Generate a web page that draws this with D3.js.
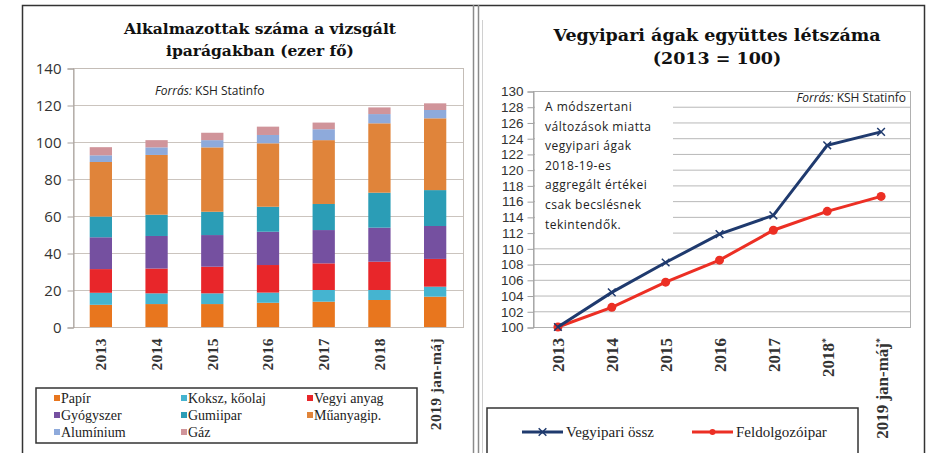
<!DOCTYPE html>
<html>
<head>
<meta charset="utf-8">
<script src="https://cdn.jsdelivr.net/npm/d3@7"></script>
<style>
  body { margin: 0; background: #fff; }
  svg { display: block; }
  .tick text { fill: #333; }
</style>
</head>
<body>
<div id="chart"></div>
<script>
// data for the left (stacked bars) chart, thousand persons
var years = ["2013", "2014", "2015", "2016", "2017", "2018", "2019 jan-máj"];
var seriesNames = ["Papír", "Koksz, kőolaj", "Vegyi anyag", "Gyógyszer", "Gumiipar", "Műanyagip.", "Alumínium", "Gáz"];
var papir     = [12.0, 12.4, 12.4, 13.1, 13.7, 14.6, 16.4];
var koksz     = [6.5, 5.8, 5.8, 5.5, 6.3, 5.4, 5.4];
var vegyi     = [12.8, 13.4, 14.4, 14.9, 14.4, 15.3, 15.0];
var gyogyszer = [17.2, 17.6, 17.1, 18.0, 18.0, 18.4, 17.8];
var gumi      = [11.2, 11.5, 12.6, 13.5, 14.1, 18.9, 19.4];
var muanyag   = [29.5, 32.3, 34.8, 34.3, 34.5, 37.5, 38.8];
var aluminium = [3.6, 4.1, 3.9, 4.5, 5.9, 5.0, 4.5];
var gaz       = [4.4, 3.9, 4.0, 4.5, 3.6, 3.6, 3.6];
var leftTicks = [0, 20, 40, 60, 80, 100, 120, 140];

// data for the right (index) chart
var idxYears = ["2013", "2014", "2015", "2016", "2017", "2018", "2019 jan-máj"];
var idxStar = [false, false, false, false, false, true, true];
var vegyipariOssz = [100, 104.4, 108.2, 111.8, 114.2, 123.1, 124.8];
var feldolgozoipar = [100, 102.5, 105.7, 108.5, 112.3, 114.7, 116.6];
var rightTicks = [100, 102, 104, 106, 108, 110, 112, 114, 116, 118, 120, 122, 124, 126, 128, 130];
var noteLines = ["A módszertani", "változások miatta", "vegyipari ágak", "2018-19-es", "aggregált értékei", "csak becslésnek", "tekintendők."];

var barColors = ["#e8761e", "#45b4d0", "#e8262a", "#7550a0", "#2b9db6", "#e0843a", "#8eaadb", "#d0949a"];

var svgWidth = 931;
var svgHeight = 453;

var svg = d3.select("#chart")
  .append("svg")
  .attr("width", svgWidth)
  .attr("height", svgHeight);

// panel frames
svg.append("rect")
  .attr("x", 22.5).attr("y", 5.5)
  .attr("width", 902).attr("height", 470)
  .attr("fill", "none").attr("stroke", "#333").attr("stroke-width", 1.5);
svg.append("line").attr("x1", 473.5).attr("x2", 473.5).attr("y1", 5).attr("y2", 453)
  .attr("stroke", "#8a8a8a").attr("stroke-width", 1.5);
svg.append("line").attr("x1", 478.5).attr("x2", 478.5).attr("y1", 5).attr("y2", 453)
  .attr("stroke", "#8a8a8a").attr("stroke-width", 1.5);

var titleFont = "'DejaVu Serif', serif";
var serifFont = "'Liberation Serif', 'Times New Roman', serif";
var sansFont = "'Open Sans', 'DejaVu Sans', sans-serif";
var narrowFont = "'Liberation Sans', Arial, sans-serif";

// ---------------- left chart ----------------
var L = { left: 73, right: 463, top: 68, bottom: 327 };

var table = years.map(function(y, i) {
  return {
    year: y,
    "Papír": papir[i], "Koksz, kőolaj": koksz[i], "Vegyi anyag": vegyi[i], "Gyógyszer": gyogyszer[i],
    "Gumiipar": gumi[i], "Műanyagip.": muanyag[i], "Alumínium": aluminium[i], "Gáz": gaz[i]
  };
});

var xBand = d3.scaleBand()
  .domain(years)
  .range([L.left, L.right])
  .paddingInner(0.6)
  .paddingOuter(0.3);

var yLeft = d3.scaleLinear()
  .domain([0, 140])
  .range([L.bottom, L.top]);

var leftTitle = svg.append("text")
  .attr("text-anchor", "middle")
  .attr("font-family", titleFont)
  .attr("font-weight", "bold")
  .attr("font-size", "15.5px")
  .attr("fill", "#111");
leftTitle.append("tspan").attr("x", 260).attr("y", 34).text("Alkalmazottak száma a vizsgált");
leftTitle.append("tspan").attr("x", 260).attr("y", 56).text("iparágakban (ezer fő)");

// gridlines
svg.append("g")
  .selectAll("line")
  .data(leftTicks)
  .enter()
  .append("line")
  .attr("x1", L.left).attr("x2", L.right)
  .attr("y1", function(d) { return yLeft(d) + 0.5; })
  .attr("y2", function(d) { return yLeft(d) + 0.5; })
  .attr("stroke", "#cbc4be");

svg.append("rect")
  .attr("x", L.left + 0.5).attr("y", L.top + 0.5)
  .attr("width", L.right - L.left).attr("height", L.bottom - L.top)
  .attr("fill", "none").attr("stroke", "#c4bdb7");

var leftAxis = d3.axisLeft(yLeft).tickValues(leftTicks).tickSize(6).tickPadding(6);
var gLeft = svg.append("g")
  .attr("transform", "translate(" + (L.left + 0.5) + ",0.5)")
  .call(leftAxis);
gLeft.select(".domain").attr("stroke", "#a8a19c");
gLeft.selectAll(".tick line").attr("stroke", "#a8a19c");
gLeft.selectAll(".tick text").attr("font-family", sansFont).attr("font-size", "15px");

var stacked = d3.stack().keys(seriesNames)(table);

svg.append("g")
  .selectAll("g")
  .data(stacked)
  .enter()
  .append("g")
  .attr("fill", function(d, i) { return barColors[i]; })
  .selectAll("rect")
  .data(function(d) { return d; })
  .enter()
  .append("rect")
  .attr("x", function(d) { return xBand(d.data.year); })
  .attr("width", xBand.bandwidth())
  .attr("y", function(d) { return yLeft(d[1]); })
  .attr("height", function(d) { return yLeft(d[0]) - yLeft(d[1]); });

var bottomLeft = d3.axisBottom(xBand).tickSize(0).tickPadding(0);
var gBottomLeft = svg.append("g")
  .attr("transform", "translate(0," + L.bottom + ")")
  .call(bottomLeft);
gBottomLeft.select(".domain").remove();
gBottomLeft.selectAll(".tick text")
  .attr("transform", "rotate(-90)")
  .attr("text-anchor", "end")
  .attr("x", -11)
  .attr("y", 0)
  .attr("dy", "0.35em")
  .attr("font-family", serifFont)
  .attr("font-weight", "bold")
  .attr("font-size", "15.5px")
  .attr("letter-spacing", "0.4px")
  .attr("fill", "#333");

var srcLeft = svg.append("text")
  .attr("x", 155).attr("y", 95)
  .attr("font-family", sansFont).attr("font-size", "12px").attr("fill", "#222");
srcLeft.append("tspan").attr("font-style", "italic").text("Forrás: ");
srcLeft.append("tspan").text("KSH Statinfo");

// left legend
svg.append("rect")
  .attr("x", 36).attr("y", 388)
  .attr("width", 381).attr("height", 55)
  .attr("fill", "none").attr("stroke", "#333").attr("stroke-width", 1.5);

var legendCols = [55, 182, 308];
var legendRows = [399, 416, 433];
var legendLeft = svg.append("g")
  .selectAll("g")
  .data(seriesNames)
  .enter()
  .append("g")
  .attr("transform", function(d, i) {
    return "translate(" + legendCols[i % 3] + "," + legendRows[Math.floor(i / 3)] + ")";
  });
legendLeft.append("rect")
  .attr("x", -1).attr("y", -4).attr("width", 6).attr("height", 6)
  .attr("fill", function(d, i) { return barColors[i]; });
legendLeft.append("text")
  .attr("x", 6).attr("y", 4)
  .attr("font-family", serifFont).attr("font-size", "14px").attr("fill", "#222")
  .text(function(d) { return d; });

// ---------------- right chart ----------------
var R = { left: 533, right: 910, top: 91, bottom: 327 };

var xPoint = d3.scalePoint()
  .domain(idxYears)
  .range([R.left - 2, R.right - 2])
  .padding(0.5);

var yRight = d3.scaleLinear()
  .domain([100, 130])
  .range([R.bottom, R.top]);

var rightTitle = svg.append("text")
  .attr("text-anchor", "middle")
  .attr("font-family", titleFont)
  .attr("font-weight", "bold")
  .attr("font-size", "17.5px")
  .attr("fill", "#111");
rightTitle.append("tspan").attr("x", 717).attr("y", 41).text("Vegyipari ágak együttes létszáma");
rightTitle.append("tspan").attr("x", 717).attr("y", 64).text("(2013 = 100)");

svg.append("line")
  .attr("x1", 482.5).attr("x2", 482.5).attr("y1", 20).attr("y2", 453)
  .attr("stroke", "#d0d0d0");

svg.append("g")
  .selectAll("line")
  .data(rightTicks)
  .enter()
  .append("line")
  .attr("x1", R.left).attr("x2", R.right)
  .attr("y1", function(d) { return yRight(d) + 0.5; })
  .attr("y2", function(d) { return yRight(d) + 0.5; })
  .attr("stroke", "#b8b8b8");

svg.append("rect")
  .attr("x", R.left + 0.5).attr("y", R.top + 0.5)
  .attr("width", R.right - R.left).attr("height", R.bottom - R.top)
  .attr("fill", "none").attr("stroke", "#b0b0b0");

var rightAxis = d3.axisLeft(yRight).tickValues(rightTicks).tickSize(6).tickPadding(4);
var gRight = svg.append("g")
  .attr("transform", "translate(" + (R.left + 0.5) + ",0.5)")
  .call(rightAxis);
gRight.select(".domain").attr("stroke", "#a0a0a0");
gRight.selectAll(".tick line").attr("stroke", "#a0a0a0");
gRight.selectAll(".tick text").attr("font-family", narrowFont).attr("font-size", "13.5px");

// note box covering the grid
svg.append("rect")
  .attr("x", R.left + 2).attr("y", R.top + 2)
  .attr("width", 138).attr("height", 148)
  .attr("fill", "#fff");

svg.append("g")
  .selectAll("text")
  .data(noteLines)
  .enter()
  .append("text")
  .attr("x", 545)
  .attr("y", function(d, i) { return 111 + i * 19.6; })
  .attr("font-family", sansFont).attr("font-size", "12px")
  .attr("letter-spacing", "0.5px").attr("fill", "#222")
  .text(function(d) { return d; });

var srcRight = svg.append("text")
  .attr("x", 906).attr("y", 102).attr("text-anchor", "end")
  .attr("font-family", sansFont).attr("font-size", "12px").attr("fill", "#222");
srcRight.append("tspan").attr("font-style", "italic").text("Forrás: ");
srcRight.append("tspan").text("KSH Statinfo");

var line = d3.line()
  .x(function(d, i) { return xPoint(idxYears[i]); })
  .y(function(d) { return yRight(d); });

svg.append("path")
  .datum(feldolgozoipar)
  .attr("d", line)
  .attr("fill", "none").attr("stroke", "#ec2f24").attr("stroke-width", 3);

svg.append("g")
  .selectAll("circle")
  .data(feldolgozoipar)
  .enter()
  .append("circle")
  .attr("cx", function(d, i) { return xPoint(idxYears[i]); })
  .attr("cy", function(d) { return yRight(d); })
  .attr("r", 4.5)
  .attr("fill", "#ec2f24");

svg.append("path")
  .datum(vegyipariOssz)
  .attr("d", line)
  .attr("fill", "none").attr("stroke", "#1f3a6e").attr("stroke-width", 3);

var xSymbol = d3.symbol().type(d3.symbolTimes || d3.symbolCross).size(40);
svg.append("g")
  .selectAll("path")
  .data(vegyipariOssz)
  .enter()
  .append("path")
  .attr("d", xSymbol)
  .attr("transform", function(d, i) { return "translate(" + xPoint(idxYears[i]) + "," + yRight(d) + ")"; })
  .attr("fill", "none").attr("stroke", "#1f3a6e").attr("stroke-width", 1.5);

var bottomRight = d3.axisBottom(xPoint).tickSize(0).tickPadding(0);
var gBottomRight = svg.append("g")
  .attr("transform", "translate(0," + R.bottom + ")")
  .call(bottomRight);
gBottomRight.select(".domain").remove();
var rightLabels = gBottomRight.selectAll(".tick text")
  .attr("transform", "rotate(-90)")
  .attr("text-anchor", "end")
  .attr("x", -11)
  .attr("y", 0)
  .attr("dy", "0.35em")
  .attr("font-family", serifFont)
  .attr("font-weight", "bold")
  .attr("font-size", "17px")
  .attr("fill", "#333");
rightLabels.each(function(d, i) {
  if (idxStar[i]) {
    d3.select(this).append("tspan")
      .attr("baseline-shift", "super").attr("font-size", "10px").text("*");
  }
});

// right legend
svg.append("rect")
  .attr("x", 487).attr("y", 408)
  .attr("width", 371).attr("height", 60)
  .attr("fill", "none").attr("stroke", "#333").attr("stroke-width", 1.5);

var lineNames = ["Vegyipari össz", "Feldolgozóipar"];
var lineColors = ["#1f3a6e", "#ec2f24"];
var legendRight = svg.append("g")
  .selectAll("g")
  .data(lineNames)
  .enter()
  .append("g")
  .attr("transform", function(d, i) { return "translate(" + (522 + i * 170) + ",432)"; });
legendRight.append("line")
  .attr("x1", 0).attr("x2", 41).attr("y1", 0).attr("y2", 0)
  .attr("stroke", function(d, i) { return lineColors[i]; }).attr("stroke-width", 3);
legendRight.filter(function(d, i) { return i === 0; })
  .append("path")
  .attr("d", xSymbol)
  .attr("transform", "translate(20.5,0)")
  .attr("fill", "none").attr("stroke", lineColors[0]).attr("stroke-width", 1.5);
legendRight.filter(function(d, i) { return i === 1; })
  .append("circle")
  .attr("cx", 20.5).attr("cy", 0).attr("r", 3)
  .attr("fill", lineColors[1]);
legendRight.append("text")
  .attr("x", 44).attr("y", 5)
  .attr("font-family", serifFont).attr("font-size", "15px").attr("fill", "#222")
  .text(function(d) { return d; });
</script>
</body>
</html>
